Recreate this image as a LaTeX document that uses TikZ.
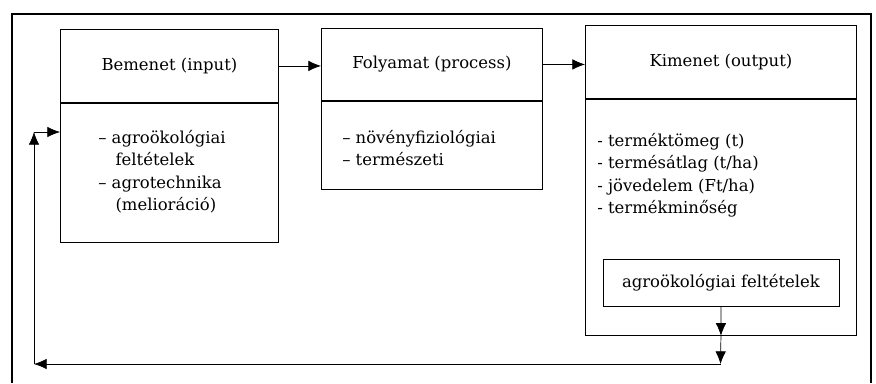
\documentclass[tikz,border=0pt]{standalone}
\usepackage{fontspec}
\setmainfont{DejaVu Serif}
\usepackage{tikz}
\usetikzlibrary{arrows.meta}
\tikzset{font={\fontsize{11.7pt}{16}\selectfont}}
\tikzset{box/.style={draw,line width=.6pt,inner sep=0pt,anchor=north west}}
\tikzset{items/.style={anchor=north west,align=left,inner sep=0pt}}
\tikzset{arr/.style={-{Latex[length=9pt,width=7.5pt]},line width=.5pt}}

\begin{document}
\begin{tikzpicture}[x=0.025cm,y=-0.025cm]
\useasboundingbox (0,0) rectangle (876,383);

%frame
\draw[line width=1pt] (12,383) -- (12,14) -- (871,14) -- (871,383);

%input
\node[box,minimum width=5.45cm,minimum height=1.825cm] at (60,29) (inhead) {Bemenet (input)};
\node[box,minimum width=5.45cm,minimum height=3.475cm] at (inhead.south west) (inbody) {};
\node[items] at (98,130) (initems) {– agroökológiai\\ \hspace{1.05em}feltételek\\ – agrotechnika\\ \hspace{1.05em}(melioráció)};

%process
\node[box,minimum width=5.525cm,minimum height=1.8cm] at (321,28) (prochead) {Folyamat (process)};
\node[box,minimum width=5.525cm,minimum height=2.2cm] at (prochead.south west) (procbody) {};
\node[items] at (342,130) (procitems) {– növényfiziológiai\\ – természeti};

%output
\node[box,minimum width=6.775cm,minimum height=1.825cm] at (585,25) (outhead) {Kimenet (output)};
\node[box,minimum width=6.775cm,minimum height=5.9cm] at (outhead.south west) (outbody) {};
\node[items] at (597,133) (outitems) {- terméktömeg (t)\\ - termésátlag (t/ha)\\ - jövedelem (Ft/ha)\\ - termékminőség};
\node[box,minimum width=5.9cm,minimum height=1.175cm] at (602.5,259) (agro) {agroökológiai feltételek};

%main flow
\draw[arr] (inhead.east) -- (inhead.east -| prochead.west);
\draw[arr] (prochead.east) -- (prochead.east -| outhead.west);

%feedback
\coordinate (fbr) at (720.5,364);
\coordinate (fbl) at (34,364);
\coordinate (fbt) at (34,132);
\draw[arr] (agro.south) -- (outbody.south);
\draw[arr] (outbody.south) -- (fbr);
\draw[arr] (fbr) -- (fbl);
\draw[arr] (fbl) -- (fbt);
\draw[arr] (fbt) -- (fbt -| inbody.west);

\end{tikzpicture}
\end{document}
